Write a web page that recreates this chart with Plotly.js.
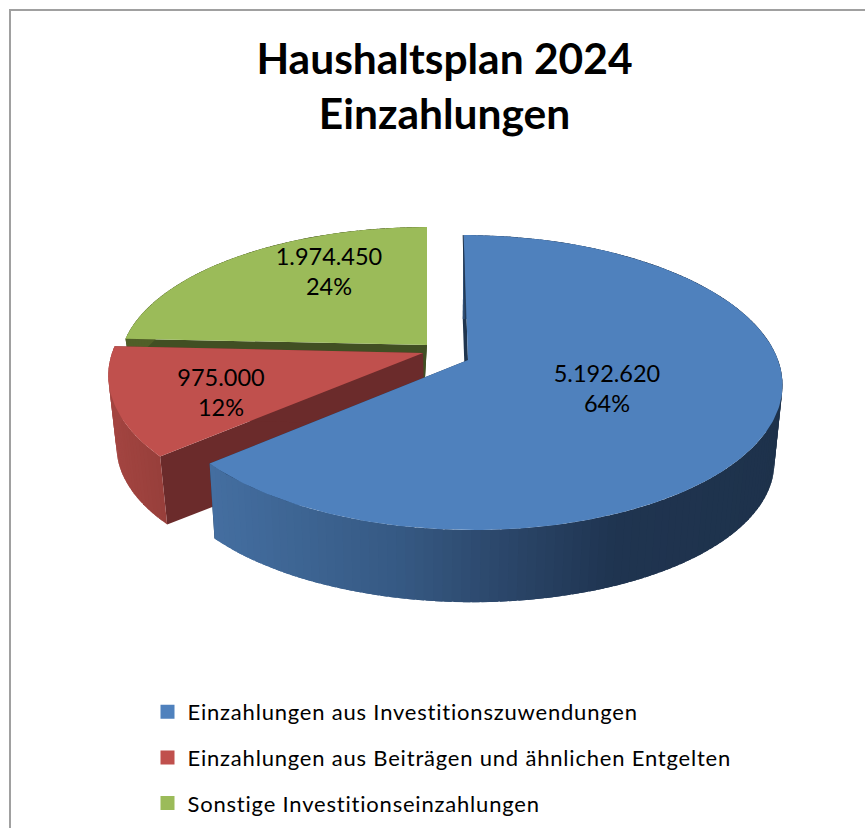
<!DOCTYPE html>
<html><head><meta charset="utf-8">
<script src="https://cdn.plot.ly/plotly-3.0.1.min.js"></script>
<style>html,body{margin:0;padding:0;background:#fff}#c{width:865px;height:828px}.legendtext{letter-spacing:.8px}</style>
</head><body><div id="c"></div>
<script>
const categories = ["Einzahlungen aus Investitionszuwendungen","Einzahlungen aus Beiträgen und ähnlichen Entgelten","Sonstige Investitionseinzahlungen"];
const values = [5192620, 975000, 1974450];
const topColors = ["#4f81bd","#c0504d","#9bbb59"];
const innerColors = ["#1f354f","#6b2b2b","#414f23"];
const titleLines = ["Haushaltsplan 2024","Einzahlungen"];

const total = values.reduce((a,b)=>a+b,0);
const k = -0.153;
// projection of each exploded slice: apex, radii, and its lower face
const geo = [
 {X:468,Y:360,A:310,B:144,S:-5,XB:467,YB:439,sx:.977,sy:.96},
 {X:423,Y:353,A:311,B:144,S:0,XB:424,YB:425,sx:.977,sy:.96},
 {X:427,Y:345,A:304,B:136,S:0,XB:425,YB:378,sx:.977,sy:.96}
];
function rimTop(g,t){const r=t*Math.PI/180,u=Math.sin(r),v=Math.cos(r),d=1-k*v;
  return [g.X+(g.A*u+g.S*v)/d, g.Y-g.B*v/d];}
function rimBot(g,t){const p=rimTop(g,t);return [g.XB+g.sx*(p[0]-g.X), g.YB+g.sy*(p[1]-g.Y)];}
function lerpHex(stops,x){
  let i=0;while(i<stops.length-2&&x>stops[i+1][0])i++;
  const a=stops[i],b=stops[i+1],f=Math.max(0,Math.min(1,(x-a[0])/(b[0]-a[0])));
  return `rgb(${[1,2,3].map(j=>Math.round(a[j]+(b[j]-a[j])*f)).join(",")})`;
}
const sideStops=[
 [[215,68,110,160],[400,54,90,132],[500,44,72,108],[620,31,52,80],[790,30,50,75]],
 [[100,165,70,66],[170,150,62,58]],
 [[100,80,95,40],[430,80,95,40]]
];
const traces=[];
function poly(pts,color){traces.push({type:"scatter",mode:"lines",x:pts.map(p=>p[0]).concat(pts[0][0]),y:pts.map(p=>p[1]).concat(pts[0][1]),
  fill:"toself",fillcolor:color,line:{width:0},showlegend:false,hoverinfo:"skip"});}
// fraction start/end angles
let cum=0;const spans=values.map(v=>{const s=cum/total*360;cum+=v;return [s,cum/total*360];});
function drawSlice(i){
  const g=geo[i],[a,b]=spans[i];
  // inner radial faces
  const ap=[g.X,g.Y],apB=[g.XB,g.YB];
  poly([ap,rimTop(g,a),rimBot(g,a),apB],innerColors[i]);
  poly([ap,rimTop(g,b),rimBot(g,b),apB],innerColors[i]);
  // outer wall strips, each overlapping the next so no seams show
  const n=Math.ceil((b-a)/1.5);
  for(let j=0;j<n;j++){
    const t0=a+(b-a)*j/n,t1=Math.min(b,a+(b-a)*(j+1)/n+1.2);
    const pts=[],low=[];
    for(let s=0;s<=3;s++){const t=t0+(t1-t0)*s/3;pts.push(rimTop(g,t));low.unshift(rimBot(g,t));}
    poly(pts.concat(low),lerpHex(sideStops[i],rimTop(g,t0)[0]));
  }
  // top surface
  const pts=[ap];const m=Math.ceil(b-a);
  for(let j=0;j<=m;j++)pts.push(rimTop(g,a+(b-a)*j/m));
  poly(pts,topColors[i]);
}
[2,1,0].forEach(drawSlice);
// thin dark edge at the twelve o'clock cut of the first slice
{const g=geo[0],r=rimTop(g,0);traces.push({type:"scatter",mode:"lines",x:[g.X-1.5,r[0]-0.5],y:[g.Y,r[1]],line:{color:innerColors[0],width:1},showlegend:false,hoverinfo:"skip"});}
// data labels
const fmt=v=>String(v).replace(/\B(?=(\d{3})+$)/g,".");
const labelAnchor=[[607,391],[221,395],[329,274]];
traces.push({type:"scatter",mode:"text",x:labelAnchor.map(p=>p[0]),y:labelAnchor.map(p=>p[1]),
  text:values.map(v=>fmt(v)+"<br>"+Math.round(v/total*100)+"%"),textposition:"middle center",
  textfont:{family:"Lato",size:23.5,color:"#000"},showlegend:false,hoverinfo:"skip"});
// legend entries
categories.forEach((c,i)=>traces.push({type:"scatter",mode:"markers",x:[-50],y:[-50],name:c,legendgroup:"g"+i,
  marker:{symbol:"square",size:14,color:topColors[i]},hoverinfo:"skip"}));

Plotly.newPlot("c",traces,{
  width:865,height:828,margin:{l:0,r:0,t:0,b:0},paper_bgcolor:"#fff",plot_bgcolor:"#fff",
  title:{text:titleLines.join("<br>"),x:444.5/865,xanchor:"center",y:1-74/828,yanchor:"top",yref:"paper",
    font:{family:"Lato",size:42.5,weight:700,color:"#000"}},
  xaxis:{range:[0,865],visible:false,fixedrange:true},
  yaxis:{range:[828,0],visible:false,fixedrange:true},
  showlegend:true,
  legend:{x:147.5/865,xanchor:"left",y:1-691/828,yanchor:"top",font:{family:"Lato",size:22,color:"#000"},
    tracegroupgap:14,bgcolor:"rgba(0,0,0,0)",itemclick:false,itemdoubleclick:false},
  shapes:[{type:"rect",xref:"x",yref:"y",x0:10,y0:10,x1:880,y1:850,line:{color:"#a0a0a0",width:2},fillcolor:"rgba(0,0,0,0)",layer:"below"}]
},{displayModeBar:false,staticPlot:true});
</script></body></html>
